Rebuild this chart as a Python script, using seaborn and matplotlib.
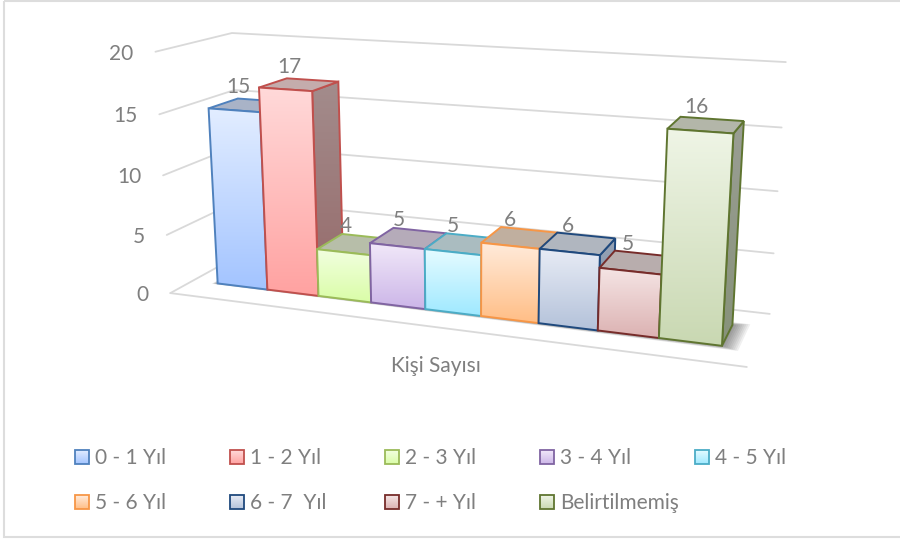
#!/usr/bin/env python
'''
3D looking clustered column chart, drawn with seaborn bars pushed through a camera matrix.
'''
import matplotlib
matplotlib.use('Agg')
import matplotlib.pyplot as plt
from matplotlib.colors import to_rgb
from matplotlib.patches import Polygon, Rectangle
from matplotlib.transforms import Transform
import numpy as np
import seaborn as sns

periods = ['0 - 1 Yıl', '1 - 2 Yıl', '2 - 3 Yıl', '3 - 4 Yıl', '4 - 5 Yıl',
           '5 - 6 Yıl', '6 - 7  Yıl', '7 - + Yıl', 'Belirtilmemiş']
counts = [15, 17, 4, 5, 5, 6, 6, 5, 16]
y_ticks = [0, 5, 10, 15, 20]
x_label = 'Kişi Sayısı'

edge_colors = ['#4F81BD', '#C0504D', '#9BBB59', '#8064A2', '#4BACC6',
               '#F79646', '#1F497D', '#772C2A', '#5F7530']
light_colors = ['#E2EDFF', '#FFD9D9', '#F2FFE0', '#F1E8F9', '#E5FBFF',
                '#FFEBDB', '#E8ECF5', '#F5E5E5', '#EFF5E6']
dark_colors = ['#A3C4FF', '#FFA2A1', '#DAFDA8', '#CCB6E8', '#9FE9FF',
               '#FFBE86', '#B4C2DA', '#DCB2B2', '#C9D8B2']
top_colors = ['#A9B3C7', '#C4ACAC', '#B7BEA9', '#B5ABB9', '#AABCC0',
              '#C0AF9F', '#B0B6BF', '#B8ADAD', '#B3B6A9']
side_top_colors = ['#8D97AB', '#A38C8C', '#9CA096', '#948C9C', '#8CA0A6',
                   '#A8957F', '#96A3B5', '#9C8C8C', '#9A9E94']
side_bottom_colors = ['#7286A8', '#966A6A', '#8A9878', '#85759C', '#6F9AA8',
                      '#A88560', '#7F8CA5', '#8F7070', '#87927A']

TEXT_GRAY = '#7F7F7F'
GRID_GRAY = '#D9D9D9'

# camera calibration: (category, value, depth) -> picture pixel
cam_world = np.array([
    (-.5, 0, 0), (-.5, 15, 0), (.5, 17, 0), (1.5, 17, 0), (1.5, 0, 0), (1.5, 4, 0), (.5, 0, 0),
    (7.5, 16, 0), (8.5, 16, 0), (8.5, 0, 0), (7.5, 0, 0),
    (.5, 17, 1), (1.5, 17, 1), (7.5, 16, 1), (8.5, 16, 1), (8.5, 0, 1),
    (-1, 0, -.75), (9, 0, -.75), (9, 0, 1.75), (9, 20, 1.75), (-1, 20, 1.75), (-1, 20, -.75)], float)
cam_pixel = np.array([
    (217, 284), (209, 108), (259, 88), (312, 91), (318, 296), (318, 249), (267, 289),
    (667, 129), (733, 133), (722, 346), (659, 338),
    (287, 78), (338, 82), (682, 117), (743, 121), (733, 325),
    (171, 293), (747, 367), (769, 314), (786, 62), (232, 33), (155, 52)], float)


def fit_camera(world, pixel):
    rows = []
    for (u, v, w), (x, y) in zip(world, pixel / 500.0):
        rows.append([u, v, w, 1, 0, 0, 0, 0, -x*u, -x*v, -x*w, -x])
        rows.append([0, 0, 0, 0, u, v, w, 1, -y*u, -y*v, -y*w, -y])
    _, _, vh = np.linalg.svd(np.array(rows))
    return vh[-1].reshape(3, 4)


camera = fit_camera(cam_world, cam_pixel)


def project(u, v, w=0.0):
    h = camera @ np.array([u, v, w, 1.0])
    return h[:2] / h[2] * 500.0


class FrontPlane(Transform):
    '''
    Maps (category, value) of the seaborn bars on the picture, at depth 0.
    '''
    input_dims = 2
    output_dims = 2
    is_separable = False
    has_inverse = False

    def transform_non_affine(self, values):
        return np.array([project(u, v) for u, v in np.asarray(values)])


def gradient_fill(ax, pts, top, bottom, zorder):
    pts = np.asarray(pts)
    ramp = np.linspace(to_rgb(top), to_rgb(bottom), 64).reshape(64, 1, 3)
    extent = (pts[:, 0].min(), pts[:, 0].max(), pts[:, 1].max(), pts[:, 1].min())
    im = ax.imshow(ramp, extent=extent, origin='upper', aspect='auto', interpolation='bilinear', zorder=zorder)
    im.set_clip_path(Polygon(pts, transform=ax.transData))


sns.set_theme(style='white')
plt.rcParams['font.family'] = ['Lato', 'DejaVu Sans']

fig = plt.figure(figsize=(9, 5.39), dpi=100)
ax = fig.add_axes([0, 0, 1, 1])

sns.barplot(x=periods, y=counts, hue=periods, palette=edge_colors, width=1, saturation=1, legend=False, ax=ax)
bars = sorted(ax.patches, key=lambda b: b.get_x())

# chart frame, its right side runs off the picture
ax.add_patch(Rectangle((4, 1), 900, 536, fill=False, ec='#DDDDDD', lw=1.5, zorder=0))

# walls and floor
u_left, u_right, w_front, w_back = -1, 9, -.75, 1.75
for tick in y_ticks:
    line = np.array([project(u_left, tick, w_front), project(u_left, tick, w_back), project(u_right, tick, w_back)])
    ax.plot(line[:, 0], line[:, 1], color=GRID_GRAY, lw=1.3, zorder=1)
    ax.annotate(str(tick), xy=line[0], xytext=(-22, -2), textcoords='offset pixels',
                ha='right', va='center', color=TEXT_GRAY, fontsize=15)
front = np.array([project(u_left, 0, w_front), project(u_right, 0, w_front)])
ax.plot(front[:, 0], front[:, 1], color=GRID_GRAY, lw=1.3, zorder=1)

# soft shadow on the floor, heavier towards the right hand bar
for d in np.arange(.03, .27, .03):
    foot = [project(-.5 - d/3, 0, -d/5), project(8.5 + d, 0, -d/2), project(8.5 + d, 0, 1 + d/2), project(8.0, 0, 1 + d/2), project(-.5 - d/3, 0, d)]
    ax.add_patch(Polygon(foot, fc='#404040', ec='none', alpha=.08, zorder=1.5))

# bars, painted from left to right
for i, bar in enumerate(bars):
    u0 = bar.get_x()
    u1 = u0 + bar.get_width()
    val = bar.get_height()
    z = 2 + i
    edge = edge_colors[i]

    side = [project(u1, val, 0), project(u1, val, 1), project(u1, 0, 1), project(u1, 0, 0)]
    gradient_fill(ax, side, side_top_colors[i], side_bottom_colors[i], z)
    ax.add_patch(Polygon(side, fc='none', ec=edge, lw=1.4, joinstyle='miter', zorder=z + .1))

    top = [project(u0, val, 0), project(u1, val, 0), project(u1, val, 1), project(u0, val, 1)]
    ax.add_patch(Polygon(top, fc=top_colors[i], ec=edge, lw=1.4, joinstyle='miter', zorder=z + .2))

    face = [project(u0, val, 0), project(u1, val, 0), project(u1, 0, 0), project(u0, 0, 0)]
    gradient_fill(ax, face, light_colors[i], dark_colors[i], z + .3)
    bar.set_facecolor('none')
    bar.set_edgecolor(edge)
    bar.set_linewidth(1.4)
    bar.set_joinstyle('miter')
    bar.set_clip_on(False)
    bar.set_zorder(z + .4)
    bar.set_transform(FrontPlane() + ax.transData)

    ax.annotate(str(int(val)), xy=project((u0 + u1)/2, val, .5), xytext=(-10, 18), textcoords='offset pixels',
                ha='center', va='center', color=TEXT_GRAY, fontsize=15, zorder=20)

ax.text(436, 366, x_label, ha='center', va='center', color=TEXT_GRAY, fontsize=15)

# legend, two rows with a fixed step
for i, name in enumerate(periods):
    row, col = divmod(i, 5)
    x = 75 + 155*col
    y = 450 + 45*row
    swatch = [(x, y), (x + 14, y), (x + 14, y + 14), (x, y + 14)]
    gradient_fill(ax, swatch, light_colors[i], dark_colors[i], 2)
    ax.add_patch(Polygon(swatch, fc='none', ec=edge_colors[i], lw=1.3, joinstyle='miter', zorder=3))
    ax.text(x + 20, y + 8, name, ha='left', va='center', color=TEXT_GRAY, fontsize=15)

ax.set_xlim(0, 900)
ax.set_ylim(539, 0)
ax.axis('off')

plt.savefig('out.png', dpi=100)
plt.close()
